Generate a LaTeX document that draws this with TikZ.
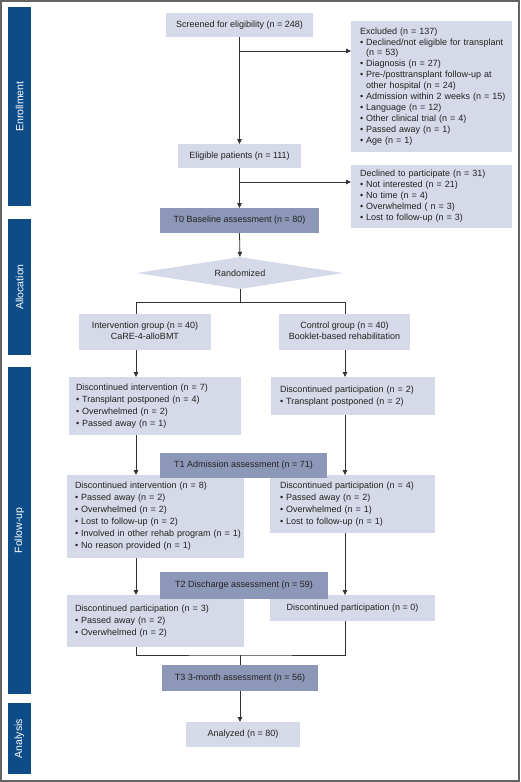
\documentclass[tikz,border=0pt]{standalone}
\usepackage{fontspec}
\setmainfont{Liberation Sans}
\usetikzlibrary{shapes.geometric,arrows.meta}
\definecolor{boxc}{RGB}{214,217,231}
\definecolor{darkc}{RGB}{141,151,184}
\definecolor{navy}{RGB}{14,76,136}
\definecolor{linec}{RGB}{51,51,51}
\definecolor{framec}{RGB}{100,100,100}
\definecolor{textc}{RGB}{35,35,35}
\newcommand{\bl}{\textbullet\ }
\newcommand{\ind}{\phantom{\textbullet\ }}
\newcommand{\lstL}[1]{\begin{tabular}{@{}l@{}}#1\end{tabular}}
\newcommand{\lstC}[1]{\begin{tabular}{@{}c@{}}#1\end{tabular}}
\tikzset{
  base/.style={inner sep=0pt, outer sep=0pt, anchor=north west, text=textc,
    font=\fontsize{9}{11}\selectfont},
  lbox/.style={base, fill=boxc},
  dbox/.style={base, fill=darkc},
  listbox/.style={lbox, align=left, inner xsep=#1},
  sidebar/.style={fill=navy, text=white, rotate=90, inner sep=0pt,
    font=\fontsize{10.5}{12}\selectfont},
  arr/.style={draw=linec, line width=0.8pt, -{Triangle[length=5pt,width=4.5pt]}},
  ln/.style={draw=linec, line width=0.8pt},
}
\begin{document}
\begin{tikzpicture}[x=1pt,y=-1pt]
\useasboundingbox (0,0) rectangle (520,782);
\draw[framec, line width=1.5pt] (1,1) rectangle (519,781);

% side bars
\node[sidebar, minimum width=199pt, minimum height=23pt] (senr) at (19.5,106.5) {Enrollment};
\node[sidebar, minimum width=136pt, minimum height=23pt] (sall) at (19.5,287) {Allocation};
\node[sidebar, minimum width=327pt, minimum height=23pt] (sfol) at (19.5,530.5) {Follow-up};
\node[sidebar, minimum width=71pt, minimum height=23pt] (sana) at (19.5,738.5) {Analysis};

% enrollment
\node[lbox, minimum width=147pt, minimum height=24pt] (screen) at (166,13) {Screened for eligibility (n = 248)};
\node[listbox=9pt, text width=143pt, minimum height=131pt, font=\fontsize{9}{10.9}\selectfont] (excl) at (351,21) {\lstL{Excluded (n = 137)\\
\bl Declined/not eligible for transplant\\
\ind(n = 53)\\
\bl Diagnosis (n = 27)\\
\bl Pre-/posttransplant follow-up at\\
\ind other hospital (n = 24)\\
\bl Admission within 2 weeks (n = 15)\\
\bl Language (n = 12)\\
\bl Other clinical trial (n = 4)\\
\bl Passed away (n = 1)\\
\bl Age (n = 1)}};
\node[lbox, minimum width=123pt, minimum height=24pt] (elig) at (178,144) {Eligible patients (n = 111)};
\node[listbox=9pt, text width=143pt, minimum height=63pt, font=\fontsize{9}{10.9}\selectfont] (decl) at (351,165) {\lstL{Declined to participate (n = 31)\\
\bl Not interested (n = 21)\\
\bl No time (n = 4)\\
\bl Overwhelmed ( n = 3)\\
\bl Lost to follow-up (n = 3)}};
\node[dbox, minimum width=159pt, minimum height=25pt] (t0) at (160,208) {T0 Baseline assessment (n = 80)};

% allocation
\node[diamond, aspect=6.4, fill=boxc, inner sep=0pt, minimum width=206pt, minimum height=32pt, text=textc, font=\fontsize{9}{11}\selectfont] (rand) at (240,273) {Randomized};
\node[lbox, minimum width=132pt, minimum height=36pt, font=\fontsize{9}{10.7}\selectfont] (int) at (79,314) {\lstC{Intervention group (n = 40)\\CaRE-4-alloBMT}};
\node[lbox, minimum width=131pt, minimum height=36pt, font=\fontsize{9}{10.7}\selectfont] (ctrl) at (279,314) {\lstC{Control group (n = 40)\\Booklet-based rehabilitation}};

% follow-up
\node[listbox=7pt, text width=158pt, minimum height=58pt, font=\fontsize{9}{11.8}\selectfont] (di7) at (69,377) {\lstL{Discontinued intervention (n = 7)\\
\bl Transplant postponed (n = 4)\\
\bl Overwhelmed (n = 2)\\
\bl Passed away (n = 1)}};
\node[listbox=9pt, text width=146pt, minimum height=38pt, font=\fontsize{9}{12}\selectfont] (dp2) at (271,377) {\lstL{Discontinued participation (n = 2)\\
\bl Transplant postponed (n = 2)}};
\node[listbox=8pt, text width=161pt, minimum height=83pt, font=\fontsize{9}{12}\selectfont] (di8) at (67,475) {\lstL{Discontinued intervention (n = 8)\\
\bl Passed away (n = 2)\\
\bl Overwhelmed (n = 2)\\
\bl Lost to follow-up (n = 2)\\
\bl Involved in other rehab program (n = 1)\\
\bl No reason provided (n = 1)}};
\node[listbox=10pt, text width=145pt, minimum height=58pt, font=\fontsize{9}{12}\selectfont] (dp4) at (270,475) {\lstL{Discontinued participation (n = 4)\\
\bl Passed away (n = 2)\\
\bl Overwhelmed (n = 1)\\
\bl Lost to follow-up (n = 1)}};
\node[dbox, minimum width=167pt, minimum height=25pt] (t1) at (160,453) {T1 Admission assessment (n = 71)};
\node[listbox=8pt, text width=161pt, minimum height=52pt, font=\fontsize{9}{11.8}\selectfont] (dp3) at (67,595) {\lstL{Discontinued participation (n = 3)\\
\bl Passed away (n = 2)\\
\bl Overwhelmed (n = 2)}};
\node[lbox, minimum width=165pt, minimum height=26pt] (dp0) at (270,595) {Discontinued participation (n = 0)};
\node[dbox, minimum width=168pt, minimum height=27pt] (t2) at (160,572) {T2 Discharge assessment (n = 59)};
\node[dbox, minimum width=156pt, minimum height=26pt] (t3) at (162,665) {T3 3-month assessment (n = 56)};

% analysis
\node[lbox, minimum width=114pt, minimum height=25pt] (anal) at (186,722) {Analyzed (n = 80)};

% connectors
\coordinate (b1) at (239.5,51);
\coordinate (b2) at (239.5,182);
\draw[arr] (screen.south) -- (elig.north);
\draw[arr] (b1) -- (b1 -| excl.west);
\draw[arr] (elig.south) -- (t0.north);
\draw[arr] (b2) -- (b2 -| decl.west);
\draw[arr] (t0.south) -- (rand.north);

\coordinate (cl) at (136,302);
\coordinate (cr) at (345,302);
\draw[ln] (rand.south) -- (rand.south |- cl);
\draw[ln] (cl) -- (cr);
\draw[ln] (cl) -- (int.north -| cl);
\draw[ln] (cr) -- (ctrl.north -| cr);

\draw[arr] (int.south -| cl) -- (di7.north -| cl);
\draw[arr] (ctrl.south -| cr) -- (dp2.north -| cr);
\draw[arr] (di7.south -| cl) -- (di8.north -| cl);
\draw[arr] (dp2.south -| cr) -- (dp4.north -| cr);
\draw[arr] (di8.south -| cl) -- (dp3.north -| cl);
\draw[arr] (dp4.south -| cr) -- (dp0.north -| cr);

\coordinate (m) at (240,655);
\draw[ln] (dp3.south -| cl) |- (m) -| (dp0.south -| cr);
\draw[ln] (m) -- (t3.north -| m);
\draw[arr] (t3.south) -- (t3.south |- anal.north);
\end{tikzpicture}
\end{document}
